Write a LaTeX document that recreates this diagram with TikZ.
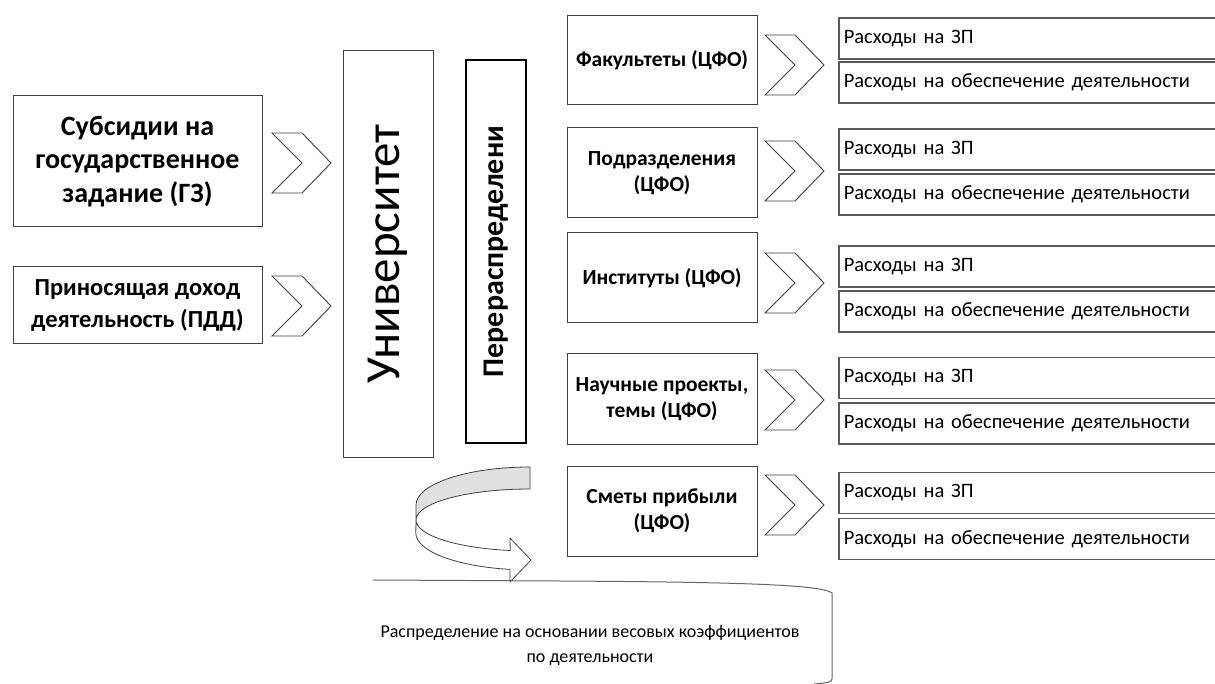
\documentclass[tikz,border=0pt]{standalone}
\usepackage{fontspec}
\setmainfont{Carlito}
\begin{document}
\begin{tikzpicture}[x=1pt,y=-1pt,
  lbox/.style={draw=black!75, line width=1pt, fill=white, inner sep=0pt, align=center},
  mbox/.style={draw=black!75, line width=1pt, align=center, inner sep=0pt, minimum width=190pt, minimum height=90pt, font=\fontsize{21.5}{26}\selectfont\bfseries},
  rbox/.style={draw=black!65, line width=1.5pt, anchor=west, inner xsep=5pt, inner ysep=0pt, text width=377pt, align=left, minimum height=41pt, font=\fontsize{20.5}{24}\selectfont},
  chev/.style={draw=black!75, line width=0.9pt, fill=white, line join=miter},
  arr/.style={draw=black!75, line width=0.8pt, line join=round},
  callout/.style={draw=black!60, line width=1pt}
]
\path[use as bounding box, fill=white] (0,0) rectangle (1215,684);
\newcommand{\chevr}[2]{\draw[chev] (#1,#2-30) -- ++(30,0) -- ++(29,30) -- ++(-29,30) -- ++(-30,0) -- ++(30,-30) -- cycle;}

% left sources
\node[lbox, minimum width=249pt, minimum height=131pt, font=\fontsize{28}{33.5}\selectfont\bfseries] (gz) at (137.5,161.5) {Субсидии на\\государственное\\задание (ГЗ)};
\node[lbox, minimum width=249pt, minimum height=77pt, font=\fontsize{24.5}{31.5}\selectfont\bfseries] (pdd) at (137.5,305.5) {Приносящая доход\\деятельность (ПДД)};

\chevr{272}{163}
\chevr{272}{306}

% university and redistribution
\node[lbox, rotate=90, minimum width=406pt, minimum height=90pt, font=\fontsize{49}{52}\selectfont] (univ) at (388,254) {Университет};
\node[draw=black, line width=2pt, inner sep=0pt, rotate=90, minimum width=383pt, minimum height=60pt, font=\fontsize{30}{32}\selectfont\bfseries] (redist) at (496,251.5) {Перераспределени};

% middle column
\node[mbox, minimum height=89pt] (m1) at (662,60.5) {Факультеты (ЦФО)};
\node[mbox] (m2) at (662,173) {Подразделения\\(ЦФО)};
\node[mbox] (m3) at (662,278) {Институты (ЦФО)};
\node[mbox] (m4) at (662,399) {Научные проекты,\\темы (ЦФО)};
\node[mbox] (m5) at (662,511) {Сметы прибыли\\(ЦФО)};

\chevr{765}{65}
\chevr{765}{171}
\chevr{765}{283}
\chevr{765}{400}
\chevr{765}{505}

% right column
\node[rbox] (r1a) at (838,38.5) {Расходы на ЗП};
\node[rbox] (r1b) at (838,82.5) {Расходы на обеспечение деятельности};
\node[rbox] (r2a) at (838,149.5) {Расходы на ЗП};
\node[rbox] (r2b) at (838,194.5) {Расходы на обеспечение деятельности};
\node[rbox] (r3a) at (838,266.5) {Расходы на ЗП};
\node[rbox] (r3b) at (838,311.5) {Расходы на обеспечение деятельности};
\node[rbox] (r4a) at (838,378) {Расходы на ЗП};
\node[rbox] (r4b) at (838,423.5) {Расходы на обеспечение деятельности};
\node[rbox] (r5a) at (838,493) {Расходы на ЗП};
\node[rbox] (r5b) at (838,539) {Расходы на обеспечение деятельности};

% curved arrow
\filldraw[arr, fill=black!12] (530,467) arc[start angle=-90, end angle=-180, x radius=114, y radius=38]
  -- (416,520) arc[start angle=180, end angle=270, x radius=114, y radius=31] -- cycle;
\filldraw[arr, fill=white] (416,520) arc[start angle=180, end angle=100, x radius=114, y radius=31]
  -- (510,538) -- (531,560) -- (510,582) -- (510,569.4)
  arc[start angle=100, end angle=180, x radius=114, y radius=37] -- cycle;

% bottom callout
\draw[callout] (373,580) -- (560,581) .. controls (720,582) and (822,584) .. (832,593) -- (832,679) .. controls (832,682) and (828,683) .. (814,684);
\node[align=center, inner sep=0pt, font=\fontsize{18}{25}\selectfont] (note) at (590,645) {Распределение на основании весовых коэффициентов\\по деятельности};
\end{tikzpicture}
\end{document}
